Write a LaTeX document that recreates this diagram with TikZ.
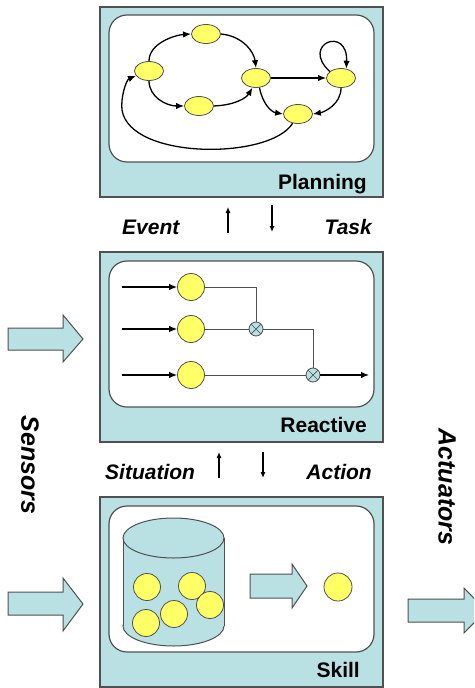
\documentclass[tikz,border=0pt]{standalone}
\usepackage{fontspec}
\setmainfont{Liberation Sans}
\usetikzlibrary{arrows.meta,shapes.geometric}
\definecolor{boxblue}{RGB}{185,224,227}
\definecolor{ylw}{RGB}{255,255,102}
\definecolor{edgegray}{RGB}{80,80,80}
\begin{document}
\begin{tikzpicture}[x=1pt,y=-1pt,
  outerbox/.style={draw=edgegray, line width=1.6pt, fill=boxblue, rectangle, minimum width=283pt, minimum height=190pt, inner sep=0pt},
  innerbox/.style={draw=edgegray, line width=1.2pt, fill=white, rectangle, rounded corners=18pt, minimum width=265pt, inner sep=0pt},
  pnode/.style={ellipse, draw=edgegray, line width=0.8pt, fill=ylw, minimum width=29pt, minimum height=19pt, inner sep=0pt},
  rnode/.style={circle, draw=edgegray, line width=0.8pt, fill=ylw, minimum size=27pt, inner sep=0pt},
  xornode/.style={circle, draw=edgegray, line width=0.8pt, fill=boxblue, minimum size=14pt, inner sep=0pt,
    path picture={\draw[edgegray,line width=0.7pt] (path picture bounding box.north west)--(path picture bounding box.south east) (path picture bounding box.north east)--(path picture bounding box.south west);}},
  pedge/.style={black, line width=1.3pt, -{Latex[length=8pt,width=6.5pt]}},
  rline/.style={edgegray, line width=1pt},
  rarrow/.style={black, line width=1.2pt, -{Latex[length=8pt,width=6.5pt]}},
  smallarr/.style={black, line width=1.1pt, -{Latex[length=6pt,width=5pt]}},
  blockarrow/.style={draw=edgegray, line width=1pt, fill=boxblue, line join=miter},
  boxlabel/.style={font=\bfseries\fontsize{21}{24}\selectfont, inner sep=0pt},
  flowlabel/.style={font=\bfseries\itshape\fontsize{21}{24}\selectfont, inner sep=0pt},
  sidelabel/.style={font=\bfseries\itshape\fontsize{25}{28}\selectfont, inner sep=0pt, rotate=-90}
]
\useasboundingbox (0,0) rectangle (474,688);
\clip (0,0) rectangle (474,688);

% ---------- Planning ----------
\node[outerbox] (planbox) at (241.5,102) {};
\node[innerbox, minimum height=147pt] (planin) at (241.5,88.5) {};
\node[boxlabel, anchor=base east] (planlbl) at (367,189.5) {Planning};

\node[pnode] (A) at (149,71) {};
\node[pnode] (B) at (206,34) {};
\node[pnode] (C) at (199,106) {};
\node[pnode] (D) at (256,78) {};
\node[pnode] (E) at (341,78) {};
\node[pnode] (F) at (298,114) {};

\draw[pedge] (A.north) .. controls +(0,-18) and +(-16,1) .. (B.west);
\draw[pedge] (B.east) .. controls +(22,2) and +(-2,-16) .. (D.north);
\draw[pedge] (A.south) .. controls +(0,16) and +(-18,0) .. (C.west);
\draw[pedge] (C.east) .. controls +(22,-1) and +(-6,10) .. (D.250);
\draw[pedge] (D.east) -- (E.west);
\draw[pedge] (E.150) .. controls (300,44) and (348,25) .. (E.60);
\draw[pedge] (D.290) .. controls +(3,16) and +(-12,-2) .. (F.west);
\draw[pedge] (E.south) .. controls +(0,16) and +(12,-2) .. (F.east);
\draw[pedge] (F.240) .. controls (270,160) and (130,160) .. (122,110) .. controls (120.5,98) and (126,80) .. (A.200);

% ---------- Event / Task ----------
\node[flowlabel, anchor=base west] (event) at (122,234.5) {Event};
\node[flowlabel, anchor=base east] (task) at (372,234.5) {Task};
\coordinate (eu1) at (228,233);
\coordinate (eu2) at (228,207);
\coordinate (td1) at (272,205);
\coordinate (td2) at (272,232);
\draw[smallarr] (eu1) -- (eu2);
\draw[smallarr] (td1) -- (td2);

% ---------- Reactive ----------
\node[outerbox] (reactbox) at (241.5,347) {};
\node[innerbox, minimum height=146pt] (reactin) at (241.5,334) {};
\node[boxlabel, anchor=base east] (reactlbl) at (367,432.5) {Reactive};

\node[rnode] (R1) at (191,287) {};
\node[rnode] (R2) at (191,329) {};
\node[rnode] (R3) at (191,375) {};
\node[xornode] (X1) at (256,329) {};
\node[xornode] (X2) at (313,375) {};
\coordinate (i1) at (122,287);
\coordinate (i2) at (122,329);
\coordinate (i3) at (122,375);
\coordinate (o1) at (369,375);
\draw[rarrow] (i1) -- (R1.west);
\draw[rarrow] (i2) -- (R2.west);
\draw[rarrow] (i3) -- (R3.west);
\draw[rline] (R1.east) -| (X1.north);
\draw[rline] (R2.east) -- (X1.west);
\draw[rline] (X1.east) -| (X2.north);
\draw[rline] (R3.east) -- (X2.west);
\draw[rarrow] (X2.east) -- (o1);

% ---------- Situation / Action ----------
\node[flowlabel, anchor=base west] (situation) at (105,479.5) {Situation};
\node[flowlabel, anchor=base east] (action) at (372,479.5) {Action};
\coordinate (su1) at (219,478);
\coordinate (su2) at (219,452);
\coordinate (ad1) at (263,452);
\coordinate (ad2) at (263,478);
\draw[smallarr] (su1) -- (su2);
\draw[smallarr] (ad1) -- (ad2);

% ---------- Skill ----------
\node[outerbox] (skillbox) at (241.5,592) {};
\node[innerbox, minimum height=146pt] (skillin) at (241.5,579) {};
\node[boxlabel, anchor=base east] (skilllbl) at (360,677.5) {Skill};

% cylinder
\draw[edgegray, line width=1pt, fill=boxblue] (173.5,626) ellipse [x radius=50.5, y radius=20];
\fill[boxblue] (123,538) rectangle (224,626);
\draw[edgegray, line width=1pt] (123,538) -- (123,626) (224,538) -- (224,626);
\draw[edgegray, line width=1pt, fill=boxblue] (173.5,538) ellipse [x radius=50.5, y radius=20];

\node[rnode] (S1) at (147,587) {};
\node[rnode] (S2) at (192,586) {};
\node[rnode] (S3) at (210,605) {};
\node[rnode] (S4) at (174,614) {};
\node[rnode] (S5) at (146,623) {};
\node[rnode, minimum size=28pt] (S6) at (338,587) {};

\draw[blockarrow] (250,574) -- (292,574) -- (292,564) -- (307,586) -- (292,608) -- (292,598) -- (250,598) -- cycle;

% ---------- Sensors / Actuators ----------
\draw[blockarrow] (8,328) -- (63,328) -- (63,315) -- (83,339) -- (63,362) -- (63,350) -- (8,350) -- cycle;
\draw[blockarrow] (8,592) -- (63,592) -- (63,578) -- (83,604) -- (63,631) -- (63,615) -- (8,615) -- cycle;
\draw[blockarrow] (408,599) -- (464,599) -- (464,588) -- (486,610.5) -- (464,633) -- (464,622) -- (408,622) -- cycle;

\node[sidelabel] (sensors) at (30,465) {Sensors};
\node[sidelabel] (actuators) at (447,487) {Actuators};
\end{tikzpicture}
\end{document}
